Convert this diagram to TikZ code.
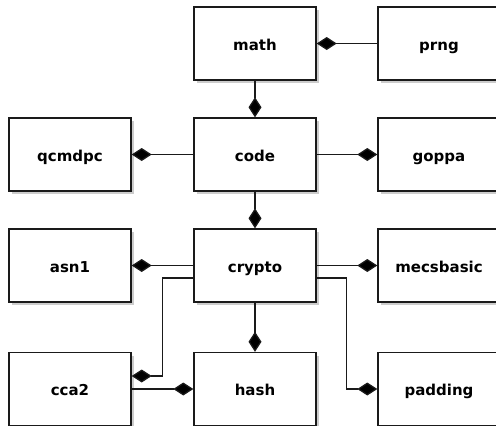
\documentclass[tikz,border=0pt]{standalone}
\usepackage{fontspec}
\setmainfont{DejaVu Sans}
\usetikzlibrary{arrows.meta}
\definecolor{edge}{HTML}{1A1A1A}
\definecolor{shade}{HTML}{CCCCCC}
\begin{document}
\begin{tikzpicture}[x=1pt,y=-1pt,
  box/.style={draw=edge, line width=1.4pt, fill=white, minimum width=122pt, minimum height=73pt,
    inner sep=0pt, text height=13.5pt, text depth=0.5pt, font=\bfseries\fontsize{15}{17}\selectfont,
    preaction={fill=shade, transform canvas={xshift=3pt,yshift=-3pt}}},
  conn/.style={draw=edge, line width=1.3pt, -{Diamond[length=20pt,width=13pt,fill=black]}}]
\useasboundingbox (0,0) rectangle (496,426);
\begin{scope}
\clip (0,0) rectangle (496,426);
\node[box] (math) at (255,43.5) {math};
\node[box] (prng) at (439,43.5) {prng};
\node[box] (qcmdpc) at (70,154.5) {qcmdpc};
\node[box] (code) at (255,154.5) {code};
\node[box] (goppa) at (439,154.5) {goppa};
\node[box] (asn1) at (70,265.5) {asn1};
\node[box] (crypto) at (255,265.5) {crypto};
\node[box] (mecsbasic) at (439,265.5) {mecsbasic};
\node[box] (cca2) at (70,389) {cca2};
\node[box] (hash) at (255,389) {hash};
\node[box] (padding) at (439,389) {padding};
\draw[conn] (prng) -- (math);
\draw[conn] (math) -- (code);
\draw[conn] (code) -- (qcmdpc);
\draw[conn] (code) -- (goppa);
\draw[conn] (code) -- (crypto);
\draw[conn] (crypto) -- (asn1);
\draw[conn] (crypto) -- (mecsbasic);
\draw[conn] (crypto) -- (hash);
\draw[conn] (cca2) -- (hash);
\draw[conn] ([yshift=-12.5pt]crypto.west) -| ([xshift=31pt,yshift=13pt]cca2.east) -- ([yshift=13pt]cca2.east);
\draw[conn] ([yshift=-12.5pt]crypto.east) -| ([xshift=-31pt]padding.west) -- (padding.west);
\end{scope}
\end{tikzpicture}
\end{document}
